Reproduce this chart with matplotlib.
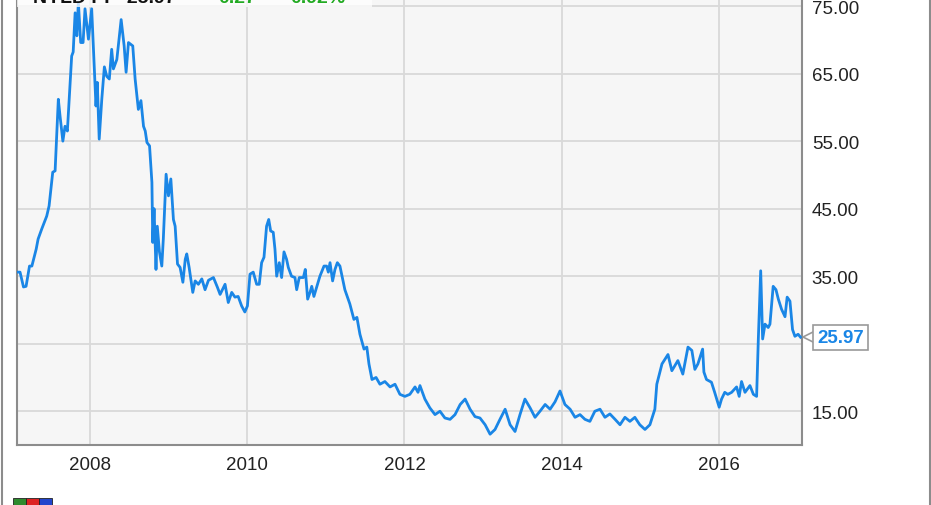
import numpy as np
import pandas as pd
import matplotlib
matplotlib.use("Agg")
import matplotlib.pyplot as plt
import matplotlib.dates as mdates
import matplotlib.transforms as mtransforms
from matplotlib.patches import Rectangle

plt.rcParams['font.family'] = ['Liberation Sans', 'DejaVu Sans']

# 주가 데이터
dates = [
    "2007-01-27", "2007-02-09", "2007-02-25", "2007-03-09", "2007-03-25", "2007-04-05",
    "2007-04-25", "2007-05-04", "2007-05-21", "2007-06-13", "2007-06-24", "2007-07-11",
    "2007-07-22", "2007-08-06", "2007-08-14", "2007-08-27", "2007-09-06", "2007-09-17",
    "2007-10-07", "2007-10-14", "2007-10-23", "2007-10-31", "2007-11-07", "2007-11-18",
    "2007-11-29", "2007-12-08", "2007-12-24", "2008-01-08", "2008-01-23", "2008-01-28",
    "2008-02-03", "2008-02-12", "2008-02-24", "2008-03-07", "2008-03-18", "2008-03-30",
    "2008-04-10", "2008-04-18", "2008-05-04", "2008-05-24", "2008-06-07", "2008-06-16",
    "2008-06-27", "2008-07-17", "2008-07-28", "2008-08-12", "2008-08-24", "2008-09-05",
    "2008-09-13", "2008-09-21", "2008-10-03", "2008-10-14", "2008-10-18", "2008-10-24",
    "2008-11-02", "2008-11-08", "2008-11-18", "2008-11-29", "2008-12-06", "2008-12-19",
    "2008-12-30", "2009-01-10", "2009-01-22", "2009-01-30", "2009-02-10", "2009-02-22",
    "2009-03-07", "2009-03-18", "2009-03-25", "2009-04-05", "2009-04-22", "2009-05-03",
    "2009-05-18", "2009-06-03", "2009-06-18", "2009-07-04", "2009-07-27", "2009-08-14",
    "2009-08-27", "2009-09-19", "2009-10-04", "2009-10-20", "2009-11-04", "2009-11-19",
    "2009-12-05", "2009-12-20", "2010-01-01", "2010-01-13", "2010-01-28", "2010-02-13",
    "2010-02-25", "2010-03-08", "2010-03-19", "2010-03-31", "2010-04-10", "2010-04-19",
    "2010-05-01", "2010-05-09", "2010-05-17", "2010-05-29", "2010-06-09", "2010-06-20",
    "2010-07-02", "2010-07-10", "2010-07-25", "2010-08-10", "2010-08-18", "2010-08-30",
    "2010-09-18", "2010-09-27", "2010-10-08", "2010-10-19", "2010-10-27", "2010-11-06",
    "2010-11-19", "2010-12-04", "2010-12-23", "2011-01-04", "2011-01-12", "2011-01-20",
    "2011-02-01", "2011-02-12", "2011-02-23", "2011-03-07", "2011-03-30", "2011-04-22",
    "2011-05-11", "2011-05-25", "2011-06-08", "2011-06-27", "2011-07-10", "2011-07-20",
    "2011-08-03", "2011-08-22", "2011-09-09", "2011-10-02", "2011-10-26", "2011-11-18",
    "2011-12-11", "2012-01-03", "2012-01-26", "2012-02-19", "2012-03-04", "2012-03-13",
    "2012-04-05", "2012-04-28", "2012-05-22", "2012-06-14", "2012-07-07", "2012-07-31",
    "2012-08-23", "2012-09-16", "2012-10-09", "2012-11-01", "2012-11-24", "2012-12-17",
    "2013-01-10", "2013-02-02", "2013-02-25", "2013-03-20", "2013-04-13", "2013-05-06",
    "2013-05-29", "2013-06-21", "2013-07-14", "2013-08-07", "2013-08-30", "2013-09-22",
    "2013-10-16", "2013-11-08", "2013-12-01", "2013-12-24", "2014-01-16", "2014-02-09",
    "2014-03-04", "2014-03-27", "2014-04-19", "2014-05-12", "2014-06-04", "2014-06-28",
    "2014-07-21", "2014-08-13", "2014-09-06", "2014-09-29", "2014-10-22", "2014-11-14",
    "2014-12-07", "2014-12-30", "2015-01-23", "2015-02-15", "2015-03-10", "2015-03-19",
    "2015-04-12", "2015-05-10", "2015-05-28", "2015-06-25", "2015-07-18", "2015-08-11",
    "2015-08-29", "2015-09-12", "2015-09-26", "2015-10-18", "2015-10-24", "2015-11-05",
    "2015-11-28", "2015-12-13", "2016-01-03", "2016-01-14", "2016-01-29", "2016-02-12",
    "2016-03-01", "2016-03-24", "2016-04-05", "2016-04-16", "2016-05-02", "2016-05-25",
    "2016-06-10", "2016-06-25", "2016-07-03", "2016-07-14", "2016-07-23", "2016-08-03",
    "2016-08-18", "2016-08-26", "2016-09-10", "2016-09-23", "2016-10-04", "2016-10-19",
    "2016-11-04", "2016-11-14", "2016-11-27", "2016-12-09", "2016-12-20", "2017-01-04",
    "2017-01-15",
]
prices = [
    35.6, 35.6, 33.4, 33.5, 36.5, 36.5,
    39.0, 40.5, 42.0, 43.9, 45.4, 50.4,
    50.6, 61.2, 58.7, 55.0, 57.2, 56.5,
    67.6, 68.2, 74.0, 70.6, 75.6, 69.6,
    69.6, 74.6, 70.1, 74.6, 63.7, 60.2,
    63.7, 55.3, 61.2, 66.0, 64.6, 64.2,
    68.6, 65.7, 67.1, 73.0, 69.1, 65.2,
    69.6, 69.1, 64.2, 59.7, 61.0, 57.2,
    56.5, 54.8, 54.3, 48.9, 40.0, 45.0,
    36.0, 42.4, 38.6, 36.5, 40.5, 50.1,
    46.9, 49.4, 43.4, 42.4, 36.8, 36.3,
    34.1, 37.5, 38.3, 36.3, 32.6, 34.3,
    33.8, 34.6, 33.0, 34.4, 34.8, 33.4,
    32.3, 33.8, 31.1, 32.6, 31.9, 32.0,
    30.6, 29.7, 30.6, 35.3, 35.6, 33.8,
    33.8, 37.0, 37.8, 42.4, 43.4, 41.7,
    41.5, 39.0, 35.0, 37.0, 34.8, 38.6,
    37.5, 36.3, 35.0, 34.8, 33.0, 34.8,
    34.8, 36.0, 31.6, 32.6, 33.5, 32.0,
    33.4, 35.0, 36.5, 36.5, 35.6, 37.0,
    34.3, 36.0, 37.0, 36.5, 33.0, 30.9,
    28.6, 28.9, 26.4, 24.2, 24.5, 22.0,
    19.7, 20.0, 19.0, 19.4, 18.6, 19.0,
    17.5, 17.2, 17.5, 18.6, 17.8, 18.8,
    16.8, 15.5, 14.5, 15.0, 14.0, 13.8,
    14.5, 16.0, 16.8, 15.3, 14.2, 14.0,
    13.0, 11.6, 12.3, 13.8, 15.3, 13.0,
    12.0, 14.5, 16.8, 15.5, 14.1, 15.0,
    16.0, 15.3, 16.4, 18.0, 16.0, 15.3,
    14.1, 14.5, 13.8, 13.5, 15.0, 15.3,
    14.1, 14.6, 13.8, 13.0, 14.1, 13.5,
    14.1, 13.0, 12.3, 13.0, 15.3, 19.0,
    22.0, 23.4, 21.0, 22.5, 20.5, 24.5,
    24.0, 21.2, 22.0, 24.2, 20.8, 19.7,
    19.3, 17.8, 15.6, 16.8, 17.8, 17.5,
    17.8, 18.6, 17.2, 19.4, 17.8, 18.8,
    17.5, 17.2, 25.7, 35.8, 25.7, 27.9,
    27.4, 27.9, 33.5, 33.0, 31.6, 30.1,
    29.0, 31.9, 31.3, 27.1, 26.1, 26.4,
    25.97,
]
ytick_vals = [15, 25, 35, 45, 55, 65, 75]
xtick_years = [2008, 2010, 2012, 2014, 2016]
last_price = "25.97"
header_left = "NYLD PF  25.97"
header_chg = ["0.27", "0.92%"]

df = pd.DataFrame({"date": pd.to_datetime(dates), "price": prices})

fig = plt.figure(figsize=(9.31, 5.06), dpi=100)
ax = fig.add_axes([16.6 / 931, 1 - 446 / 506, (802 - 16.6) / 931, 446 / 506])
ax.set_facecolor("#f6f6f6")

ax.plot(df["date"], df["price"], color="#1a86e6", lw=2.0, zorder=3)

ax.set_xlim(pd.Timestamp("2007-01-24"), pd.Timestamp("2017-01-22"))
ax.set_ylim(10, 76.05)

ax.set_xticks([pd.Timestamp(f"{y}-01-01") for y in xtick_years])
ax.xaxis.set_major_formatter(mdates.DateFormatter("%Y"))
ax.set_yticks(ytick_vals)
ax.set_yticklabels(["" if v == 25 else f"{v:.2f}" for v in ytick_vals])
ax.yaxis.tick_right()

ax.grid(True, color="#d9d9d9", lw=1.3, zorder=0)
ax.set_axisbelow(True)
ax.tick_params(axis="both", length=0, labelsize=13.5, colors="#222222")
ax.tick_params(axis="x", pad=8)
ax.tick_params(axis="y", pad=7)

for side in ["left", "right", "bottom"]:
    ax.spines[side].set_color("#8c8c8c")
    ax.spines[side].set_linewidth(1.5)
ax.spines["top"].set_visible(False)

# 마지막 값 표시 상자
tri_tr = mtransforms.offset_copy(ax.get_yaxis_transform(), fig=fig, x=8, y=0, units="dots")
ax.plot([1.0], [prices[-1]], marker="<", ms=10, mfc="white", mec="#999999", mew=1.2,
        transform=tri_tr, clip_on=False, zorder=5)
ax.annotate(last_price, xy=(1.0, prices[-1]), xycoords=ax.get_yaxis_transform(),
            xytext=(11, 0), textcoords="offset points", va="center", ha="left",
            fontsize=13.5, fontweight="bold", color="#1a86e6", zorder=6,
            bbox=dict(boxstyle="square,pad=0.22", fc="white", ec="#999999", lw=1.2))

# 상단 헤더 (잘린 부분)
fig.patches.append(Rectangle((16.6 / 931, 1 - 8 / 506), (372 - 16.6) / 931, 8 / 506,
                             transform=fig.transFigure, fc="white", ec="none", alpha=0.75,
                             zorder=4))
fig.text(33 / 931, 1 - 3 / 506, header_left, fontsize=14, fontweight="bold",
         color="#111111", va="baseline", ha="left", zorder=5)
fig.text(218 / 931, 1 - 3 / 506, header_chg[0], fontsize=14, fontweight="bold",
         color="#22aa22", va="baseline", ha="left", zorder=5)
fig.text(290 / 931, 1 - 3 / 506, header_chg[1], fontsize=14, fontweight="bold",
         color="#22aa22", va="baseline", ha="left", zorder=5)

# 바깥 테두리
for xp in [1.5, 929.5]:
    fig.add_artist(plt.Line2D([xp / 931, xp / 931], [0, 1], transform=fig.transFigure,
                              color="#8c8c8c", lw=1.5))

# 좌하단 로고 (잘림)
for i, c in enumerate(["#2e8b2e", "#dd2222", "#2244cc"]):
    fig.patches.append(Rectangle(((13 + i * 13) / 931, 0), 13 / 931, 7 / 506,
                                 transform=fig.transFigure, fc=c, ec="#222222", lw=0.6))

fig.savefig("out.png", dpi=100)
